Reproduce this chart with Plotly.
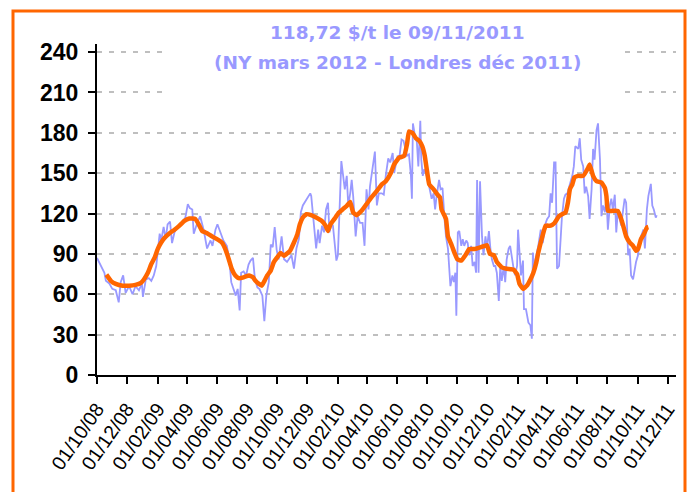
import pandas as pd
import plotly.graph_objects as go

start = pd.Timestamp("2008-10-01")

# Daily price (blue): day offsets from 2008-10-01 and $/t values
blue_days = [0, 8, 15, 18, 25, 31, 38, 44, 48, 53, 58, 65, 72, 78, 85, 91, 93, 99, 105, 110,
             115, 120, 123, 127, 130, 135, 139, 143, 148, 152, 157, 162, 167, 172, 179, 184, 188, 193, 196, 203,
             209, 216, 223, 230, 234, 240, 244, 250, 256, 263, 268, 272, 277, 281, 285, 289, 292, 297, 302, 307,
             311, 316, 320, 325, 329, 335, 339, 343, 348, 352, 356, 360, 364, 368, 374, 379, 385, 394, 399, 404,
             409, 413, 417, 422, 428, 432, 434, 438, 441, 444, 448, 451, 456, 460, 464, 468, 471, 475, 478, 481,
             485, 488, 492, 495, 498, 502, 506, 509, 513, 516, 519, 524, 528, 533, 538, 542, 546, 550, 553, 556,
             560, 563, 567, 571, 577, 581, 585, 590, 594, 599, 602, 606, 609, 612, 617, 621, 624, 628, 632, 636,
             638, 640, 644, 648, 651, 655, 657, 660, 663, 668, 673, 678, 682, 685, 688, 693, 696, 700, 704, 707,
             711, 714, 716, 720, 723, 726, 728, 731, 734, 738, 741, 744, 748, 751, 754, 758, 761, 765, 768, 770,
             773, 776, 780, 783, 787, 790, 794, 797, 800, 804, 807, 810, 814, 817, 820, 824, 827, 830, 834, 837,
             841, 844, 847, 851, 853, 856, 859, 863, 865, 869, 871, 874, 878, 881, 883, 886, 890, 894, 899, 903,
             909, 912, 916, 919, 922, 926, 929, 932, 936, 939, 942, 946, 949, 953, 956, 959, 963, 966, 969, 975,
             978, 981, 985, 988, 991, 995, 998, 1002, 1005, 1008, 1012, 1015, 1019, 1022, 1025, 1029, 1032, 1035, 1039, 1042,
             1045, 1049, 1052, 1055, 1059, 1062, 1066, 1069, 1072, 1076, 1079, 1082, 1086, 1089, 1092, 1096, 1099, 1102, 1107, 1110,
             1114, 1117, 1120, 1122, 1125, 1128, 1132, 1134]
blue_vals = [87, 81, 76, 70, 68, 64, 63, 54, 69, 74, 61, 66, 60, 66, 63, 68, 58, 71, 72, 70,
             74, 81, 94, 105, 100, 110, 101, 112, 114, 98, 106, 110, 111, 113, 117, 127, 124, 123, 105, 113,
             118, 108, 94, 100, 96, 108, 112, 106, 100, 96, 86, 69, 63, 59, 64, 48, 76, 77, 74, 82,
             85, 87, 71, 65, 64, 59, 40, 59, 69, 97, 95, 110, 93, 86, 103, 86, 84, 89, 79, 94,
             101, 121, 126, 129, 133, 135, 133, 116, 106, 94, 108, 98, 111, 106, 123, 128, 106, 113, 111, 98,
             85, 89, 123, 159, 150, 138, 148, 126, 135, 145, 133, 103, 118, 113, 113, 96, 138, 123, 140, 148,
             160, 166, 126, 135, 135, 134, 148, 161, 158, 165, 150, 158, 163, 160, 175, 174, 170, 163, 164, 148,
             131, 187, 178, 173, 155, 189, 160, 148, 153, 148, 140, 131, 135, 123, 133, 145, 138, 139, 116, 103,
             94, 81, 66, 74, 69, 76, 44, 106, 107, 96, 101, 96, 100, 98, 89, 96, 81, 84, 76, 145,
             76, 144, 103, 89, 103, 94, 107, 94, 86, 81, 81, 76, 55, 81, 70, 81, 69, 86, 94, 96,
             84, 79, 74, 81, 108, 89, 74, 85, 49, 49, 44, 39, 37, 27, 91, 79, 89, 96, 108, 98,
             113, 116, 118, 135, 128, 158, 158, 79, 81, 101, 118, 131, 134, 135, 140, 143, 148, 155, 170, 168,
             176, 160, 155, 135, 140, 133, 116, 138, 168, 160, 182, 187, 160, 118, 126, 121, 133, 108, 126, 131,
             123, 134, 106, 121, 116, 111, 123, 131, 128, 89, 94, 74, 71, 79, 84, 89, 98.5, 103, 108, 94,
             123, 133, 140, 142, 126, 123, 117, 118.72]

# Moving average (orange)
avg_days = [19, 28, 38, 52, 65, 78, 89, 95, 103, 110, 117, 123, 130, 137, 147, 157, 167, 177, 187, 199,
            206, 213, 223, 233, 243, 253, 260, 267, 273, 280, 287, 297, 308, 316, 321, 328, 334, 338, 345, 352,
            358, 365, 372, 379, 391, 399, 406, 411, 417, 424, 434, 444, 455, 463, 468, 473, 481, 490, 498, 506,
            513, 519, 526, 536, 546, 556, 567, 577, 585, 595, 602, 612, 622, 628, 632, 639, 646, 653, 659, 664,
            668, 673, 682, 690, 695, 698, 707, 711, 718, 724, 730, 738, 748, 754, 765, 778, 790, 796, 804, 810,
            820, 830, 844, 851, 856, 863, 871, 878, 884, 890, 894, 899, 906, 909, 919, 927, 936, 945, 949, 954,
            958, 963, 967, 975, 985, 995, 998, 1005, 1012, 1022, 1029, 1032, 1035, 1045, 1055, 1062, 1066, 1072, 1079, 1086,
            1092, 1096, 1102, 1108, 1114, 1117]
avg_vals = [74.6, 70, 67.7, 66.4, 66.4, 67, 68.4, 71, 76, 82.5, 87.4, 93.6, 98.5, 102, 105.4, 108, 111, 114.6, 116.3, 116,
            112, 107, 105.4, 103, 101, 98.5, 93.6, 86, 78.8, 74, 72, 72.6, 74, 72.6, 70, 67.7, 66.4, 69, 74, 77.6,
            83.7, 87.4, 90.6, 88.6, 92.3, 98.5, 104.7, 112, 117, 119.5, 118.8, 117, 114.6, 111, 107, 112, 116, 120.7, 123.2, 125.7,
            128.6, 120.7, 118.8, 122, 127, 132, 136.8, 141.7, 144, 150, 156.5, 161.5, 162.7, 171.4, 181, 180, 176, 174, 170, 163,
            153, 141.7, 138, 134, 132, 123, 116, 103, 97, 91, 86, 85, 90, 93.6, 93.6, 95, 96.5, 90, 89, 84,
            80, 79, 78.3, 75, 67.7, 64, 66.4, 71, 76, 83.7, 91, 98.5, 108, 111, 111, 113, 118, 120, 120.7, 128,
            138, 141.7, 146.7, 148, 148, 154, 156.5, 148, 144, 143, 139, 133, 122, 122, 122, 116, 111, 103, 98.5, 96,
            92.3, 93.6, 101, 104.7, 109.6, 110]

title_lines = ["118,72 $/t le 09/11/2011", "(NY mars 2012 - Londres déc 2011)"]
y_ticks = [0, 30, 60, 90, 120, 150, 180, 210, 240]

blue_x = start + pd.to_timedelta(blue_days, unit="D")
avg_x = start + pd.to_timedelta(avg_days, unit="D")

fig = go.Figure()
fig.add_trace(go.Scatter(x=blue_x, y=blue_vals, mode="lines",
                         line=dict(color="#9999FF", width=1.8), hoverinfo="skip"))
fig.add_trace(go.Scatter(x=avg_x, y=avg_vals, mode="lines",
                         line=dict(color="#FF6600", width=4.5, shape="spline", smoothing=0.3),
                         hoverinfo="skip"))

L, R, T, B = 97, 17, 44, 117
W, H = 693, 492
pw, ph = W - L - R, H - T - B

def px_x(x):
    return (x - L) / pw

def px_y(y):
    return (H - B - y) / ph

ARIAL = "Arial, Liberation Sans, sans-serif"

fig.update_layout(
    width=W, height=H,
    margin=dict(l=L, r=R, t=T, b=B, pad=0, autoexpand=False),
    paper_bgcolor="white", plot_bgcolor="white",
    showlegend=False,
    font=dict(family=ARIAL, color="black"),
    xaxis=dict(
        type="date", automargin=False,
        range=["2008-10-01", "2011-12-18"],
        tickmode="linear", tick0="2008-10-01", dtick="M2",
        tickformat="%d/%m/%y", tickangle=-55,
        ticks="outside", ticklen=7, tickwidth=1.5, tickcolor="black",
        showline=True, linecolor="black", linewidth=2,
        showgrid=False, zeroline=False,
        tickfont=dict(size=19.5, family=ARIAL),
        ticklabelstandoff=6,
    ),
    yaxis=dict(
        automargin=False,
        range=[0, 246],
        tickmode="array", tickvals=y_ticks, ticktext=[str(v) for v in y_ticks],
        ticks="outside", ticklen=7, tickwidth=1.5, tickcolor="black",
        showline=True, linecolor="black", linewidth=2,
        showgrid=True, gridcolor="#BFBFBF", gridwidth=2, griddash="5px,7px",
        zeroline=False,
        tickfont=dict(size=23, family=ARIAL, weight="bold"),
        ticklabelstandoff=5,
    ),
    shapes=[
        dict(type="rect", xref="paper", yref="paper",
             x0=px_x(162), x1=px_x(625), y0=px_y(108), y1=px_y(14),
             fillcolor="white", line=dict(width=0), layer="above"),
        dict(type="rect", xref="paper", yref="paper",
             x0=px_x(13), x1=px_x(685), y0=px_y(500), y1=px_y(11),
             fillcolor="rgba(0,0,0,0)", line=dict(color="#FF6600", width=3), layer="above"),
    ],
    annotations=[
        dict(xref="paper", yref="paper", x=px_x(397), y=px_y(32),
             text=title_lines[0], showarrow=False, xanchor="center", yanchor="middle",
             font=dict(size=18.5, color="#9999FF", family="DejaVu Sans", weight="bold")),
        dict(xref="paper", yref="paper", x=px_x(397), y=px_y(62),
             text=title_lines[1], showarrow=False, xanchor="center", yanchor="middle",
             font=dict(size=18.5, color="#9999FF", family="DejaVu Sans", weight="bold")),
    ],
)

fig.write_html("out.html", config={"displayModeBar": False},
               post_script="document.body.style.margin='0';document.body.style.padding='0';")
